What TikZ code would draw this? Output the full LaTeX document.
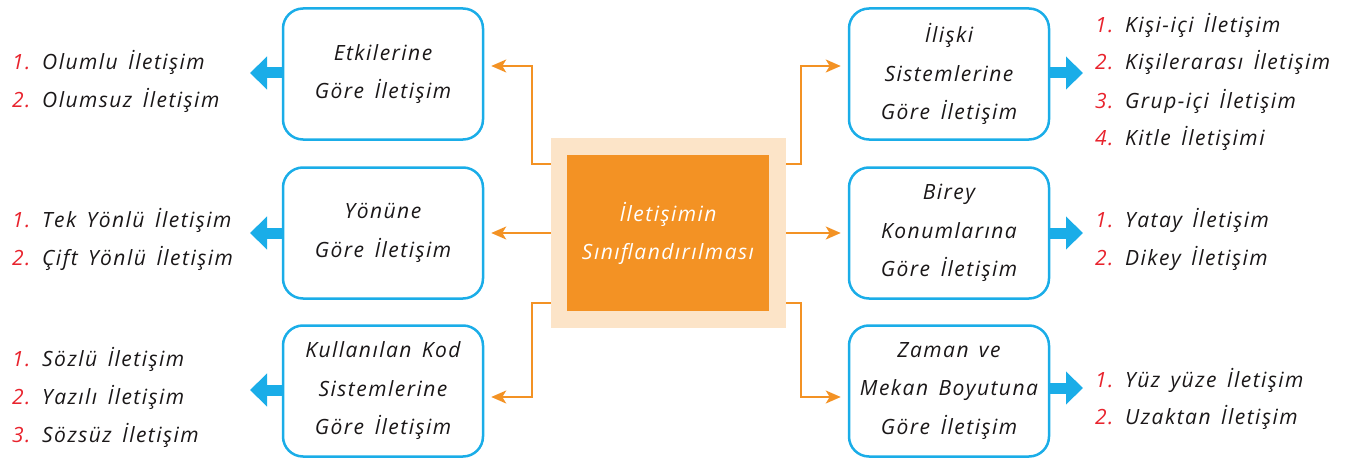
\documentclass[tikz,border=0pt]{standalone}
\usepackage{fontspec}
\setmainfont{Open Sans}
\newfontfamily\hand[LetterSpace=7, WordSpace=1.5]{Open Sans}
\usetikzlibrary{arrows.meta}
\definecolor{boxblue}{HTML}{1AADE8}
\definecolor{org}{HTML}{F39224}
\definecolor{orglight}{HTML}{FCE4C8}
\definecolor{numred}{HTML}{E8232D}
\definecolor{txt}{HTML}{1A1718}
\newcommand{\lnum}[1]{\makebox[30pt][l]{\textcolor{numred}{#1}}}
\begin{document}
\begin{tikzpicture}[x=1pt,y=-1pt,
  catbox/.style={draw=boxblue, line width=2.5pt, rounded corners=20pt,
    minimum width=200pt, minimum height=131pt, align=center, text=txt,
    font=\hand\fontsize{21}{38.5}\selectfont\itshape, inner sep=0pt},
  item/.style={anchor=base west, text=txt, inner sep=0pt,
    font=\hand\fontsize{21}{24}\selectfont\itshape},
  oarr/.style={draw=org, line width=2pt, -{Stealth[length=15pt,width=13pt,inset=4pt]}, shorten >=7pt},
  barr/.style={draw=boxblue, line width=11pt, -{Triangle[length=17pt,width=32pt]}}]
\useasboundingbox (0,0) rectangle (1358,460);
% center
\node[fill=orglight, minimum width=235pt, minimum height=190pt, inner sep=0pt] (c) at (668.5,233) {};
\node[fill=org, minimum width=202pt, minimum height=156pt, inner sep=0pt, align=center,
  text=white, font=\hand\fontsize{21}{38}\selectfont\itshape] (ci) at (668,233) {İletişimin\\Sınıflandırılması};
% category boxes
\node[catbox] (L1) at (383,74) {Etkilerine\\Göre İletişim};
\node[catbox] (L2) at (383,233) {Yönüne\\Göre İletişim};
\node[catbox] (L3) at (383,391) {Kullanılan Kod\\Sistemlerine\\Göre İletişim};
\node[catbox] (R1) at (949,74) {İlişki\\Sistemlerine\\Göre İletişim};
\node[catbox] (R2) at (949,233) {Birey\\Konumlarına\\Göre İletişim};
\node[catbox] (R3) at (949,391) {Zaman ve\\Mekan Boyutuna\\Göre İletişim};
% orange connectors
\draw[oarr] (c.west |- 0,164) -- (532,164) |- ([yshift=8pt]L1.east);
\draw[oarr] (c.west) -- (L2.east);
\draw[oarr] (c.west |- 0,303) -- (532,303) |- ([yshift=-6pt]L3.east);
\draw[oarr] (c.east |- 0,164) -- (801,164) |- ([yshift=8pt]R1.west);
\draw[oarr] (c.east) -- (R2.west);
\draw[oarr] (c.east |- 0,303) -- (801,303) |- ([yshift=-6pt]R3.west);
% blue arrows
\coordinate (tl1) at (250,73);
\coordinate (tl2) at (250,233);
\coordinate (tl3) at (250,390);
\coordinate (tr1) at (1083,73);
\coordinate (tr2) at (1083,233);
\coordinate (tr3) at (1083,388);
\draw[barr] (L1.west |- tl1) -- (tl1);
\draw[barr] (L2.west |- tl2) -- (tl2);
\draw[barr] (L3.west |- tl3) -- (tl3);
\draw[barr] (R1.east |- tr1) -- (tr1);
\draw[barr] (R2.east |- tr2) -- (tr2);
\draw[barr] (R3.east |- tr3) -- (tr3);
% left lists
\node[item] (a1) at (12,70) {\lnum{1.}Olumlu İletişim};
\node[item] (a2) at (12,107) {\lnum{2.}Olumsuz İletişim};
\node[item] (b1) at (12,227) {\lnum{1.}Tek Yönlü İletişim};
\node[item] (b2) at (12,265) {\lnum{2.}Çift Yönlü İletişim};
\node[item] (d1) at (12,366) {\lnum{1.}Sözlü İletişim};
\node[item] (d2) at (12,404) {\lnum{2.}Yazılı İletişim};
\node[item] (d3) at (12,442) {\lnum{3.}Sözsüz İletişim};
% right lists
\node[item] (e1) at (1095,33) {\lnum{1.}Kişi-içi İletişim};
\node[item] (e2) at (1095,70) {\lnum{2.}Kişilerarası İletişim};
\node[item] (e3) at (1095,108) {\lnum{3.}Grup-içi İletişim};
\node[item] (e4) at (1095,145) {\lnum{4.}Kitle İletişimi};
\node[item] (f1) at (1095,227) {\lnum{1.}Yatay İletişim};
\node[item] (f2) at (1095,265) {\lnum{2.}Dikey İletişim};
\node[item] (g1) at (1095,387) {\lnum{1.}Yüz yüze İletişim};
\node[item] (g2) at (1095,424) {\lnum{2.}Uzaktan İletişim};
\end{tikzpicture}
\end{document}
